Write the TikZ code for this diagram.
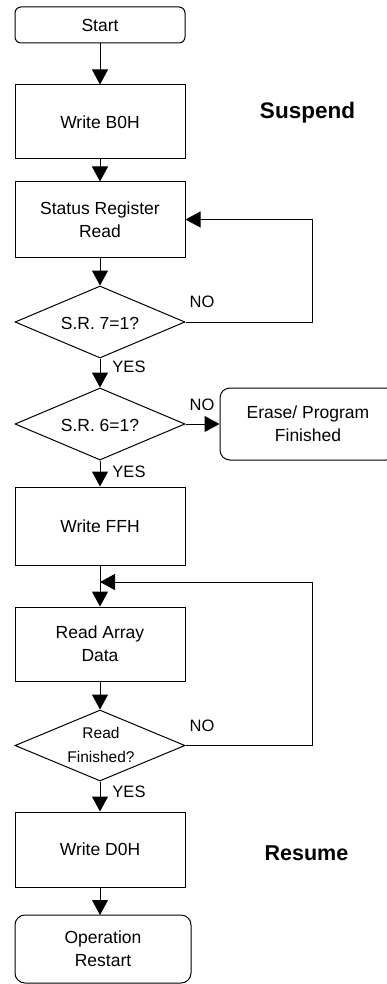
\documentclass[tikz,border=0pt]{standalone}
\usepackage{fontspec}
\setmainfont{Liberation Sans}
\usetikzlibrary{shapes.geometric,arrows.meta}
\begin{document}
\begin{tikzpicture}[x=1pt,y=-1pt,
  every node/.style={font=\fontsize{17.5}{23}\selectfont},
  box/.style={draw,line width=1pt,inner sep=0pt,align=center},
  rbox/.style={box,rounded corners=8pt},
  dia/.style={draw,line width=1pt,diamond,inner sep=0pt},
  lbl/.style={inner sep=0pt,font=\fontsize{16.5}{20}\selectfont},
  ttl/.style={inner sep=0pt,font=\fontsize{21.5}{24}\selectfont\bfseries},
  arr/.style={line width=1pt,-{Triangle[length=15pt,width=16pt]}},
  ln/.style={line width=1pt}]
\useasboundingbox (0,0) rectangle (387,984);
\node[rbox,minimum width=170pt,minimum height=36pt,rounded corners=6pt] (start) at (100,25) {Start};
\node[box,minimum width=170pt,minimum height=74pt] (b0h) at (100,122) {Write B0H};
\node[ttl,font=\fontsize{22.5}{24}\selectfont\bfseries] (susp) at (307.5,113) {Suspend};
\node[box,minimum width=170pt,minimum height=75pt] (srr) at (100,219.5) {Status Register\\Read};
\node[dia,minimum width=170pt,minimum height=72pt] (d7) at (100,322) {};
\node[inner sep=0pt] (t7) at (100,323) {S.R. 7=1?};
\node[dia,minimum width=170pt,minimum height=72pt] (d6) at (100,424) {};
\node[inner sep=0pt] (t6) at (100,425) {S.R. 6=1?};
\node[rbox,minimum width=176pt,minimum height=72pt,rounded corners=10pt] (erase) at (308,424) {Erase/ Program\\Finished};
\node[box,minimum width=170pt,minimum height=78pt] (ffh) at (100,526) {Write FFH};
\node[box,minimum width=170pt,minimum height=74pt] (rad) at (100,644) {Read Array\\Data};
\node[dia,minimum width=170pt,minimum height=71pt] (d3) at (100,745.5) {};
\node[inner sep=0pt,align=center,font=\fontsize{15.5}{24}\selectfont] (t3) at (101,745) {Read\\Finished?};
\node[box,minimum width=170pt,minimum height=75pt] (d0h) at (100,849.5) {Write D0H};
\node[ttl] (res) at (306.5,853) {Resume};
\node[rbox,minimum width=176pt,minimum height=68pt,rounded corners=10pt] (restart) at (103,949) {Operation\\Restart};
\coordinate (rs) at (100,915);
\coordinate (j) at (100,582);
\coordinate (c1) at (312,322);
\coordinate (c2) at (312,219.5);
\coordinate (c3) at (312,745.5);
\coordinate (c4) at (312,582);
\node[lbl] (no1) at (202,302) {NO};
\node[lbl] (yes1) at (129,367) {YES};
\node[lbl] (no2) at (202,405) {NO};
\node[lbl] (yes2) at (129,472) {YES};
\node[lbl] (no3) at (202,726) {NO};
\node[lbl] (yes3) at (129,792) {YES};
\draw[arr] (start) -- (b0h);
\draw[arr] (b0h) -- (srr);
\draw[arr] (srr) -- (d7.north);
\draw[arr] (d7.south) -- (d6.north);
\draw[arr] (d6.east) -- (erase.west);
\draw[arr] (d6.south) -- (ffh.north);
\draw[arr] (ffh) -- (rad);
\draw[arr] (rad) -- (d3.north);
\draw[arr] (d3.south) -- (d0h.north);
\draw[arr] (d0h.south) -- (rs);
\draw[arr] (d7.east) -- (c1) -- (c2) -- (srr.east);
\draw[arr] (d3.east) -- (c3) -- (c4) -- (j);
\end{tikzpicture}
\end{document}
